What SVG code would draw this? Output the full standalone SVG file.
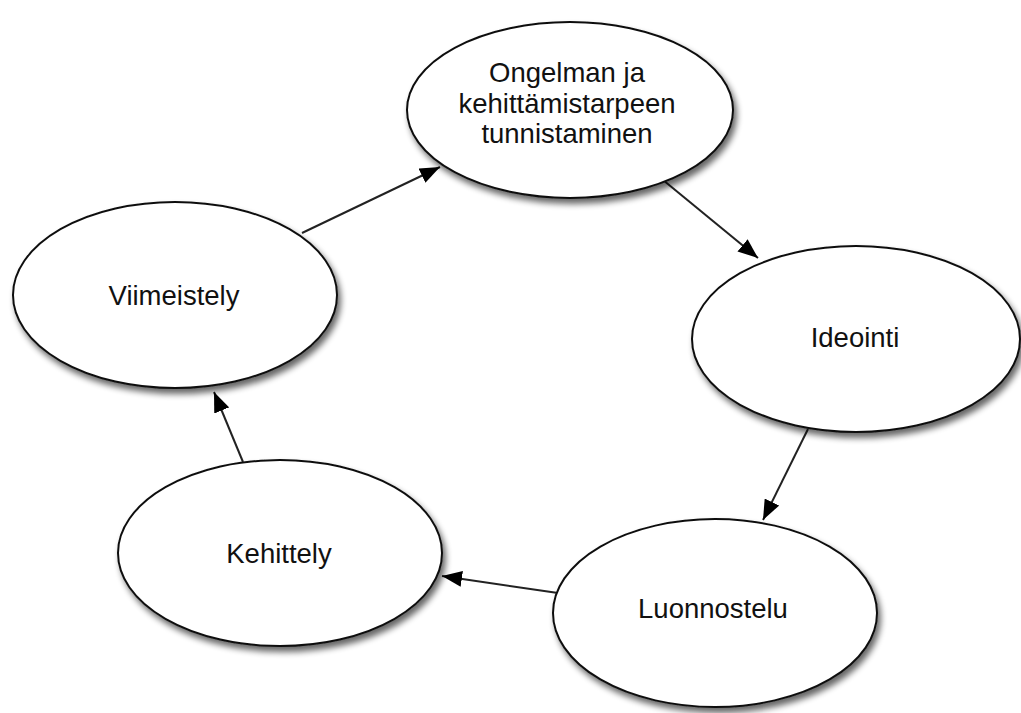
<svg xmlns="http://www.w3.org/2000/svg" width="1021" height="713" viewBox="0 0 1021 713">
<style>
.node ellipse{fill:#fff;stroke:#111;stroke-width:2;filter:url(#sh)}
.node text{font-family:"Liberation Sans",Arial,sans-serif;font-size:27.5px;fill:#111;text-anchor:middle}
#edges line{stroke:#222;stroke-width:2;marker-end:url(#ah)}
</style>
<defs>
<filter id="sh" x="-10%" y="-10%" width="125%" height="130%">
<feGaussianBlur in="SourceAlpha" stdDeviation="3"/>
<feOffset dx="3" dy="5" result="b"/>
<feComponentTransfer><feFuncA type="linear" slope="0.6"/></feComponentTransfer>
<feMerge><feMergeNode/><feMergeNode in="SourceGraphic"/></feMerge>
</filter>
<marker id="ah" markerUnits="userSpaceOnUse" markerWidth="22" markerHeight="16" refX="20" refY="8" orient="auto">
<path d="M0,0 L20,8 L0,16 Z" fill="#000"/>
</marker>
</defs>
<g id="edges">
<line x1="302" y1="233" x2="440" y2="167"/>
<line x1="663" y1="180" x2="758" y2="258"/>
<line x1="808" y1="429" x2="763" y2="520"/>
<line x1="558" y1="593" x2="442" y2="576"/>
<line x1="243" y1="462" x2="214" y2="392"/>
</g>
<g id="n1" class="node">
<ellipse cx="570" cy="110" rx="163" ry="88"/>
<text x="567" y="82">Ongelman ja</text>
<text x="567" y="113">kehittämistarpeen</text>
<text x="567" y="143">tunnistaminen</text>
</g>
<g id="n2" class="node">
<ellipse cx="856" cy="339" rx="164" ry="93"/>
<text x="855" y="347">Ideointi</text>
</g>
<g id="n3" class="node">
<ellipse cx="715" cy="613" rx="162" ry="94"/>
<text x="713" y="618">Luonnostelu</text>
</g>
<g id="n4" class="node">
<ellipse cx="280" cy="553" rx="162" ry="93"/>
<text x="279" y="563">Kehittely</text>
</g>
<g id="n5" class="node">
<ellipse cx="175" cy="295" rx="162" ry="93"/>
<text x="174" y="305">Viimeistely</text>
</g>
</svg>
